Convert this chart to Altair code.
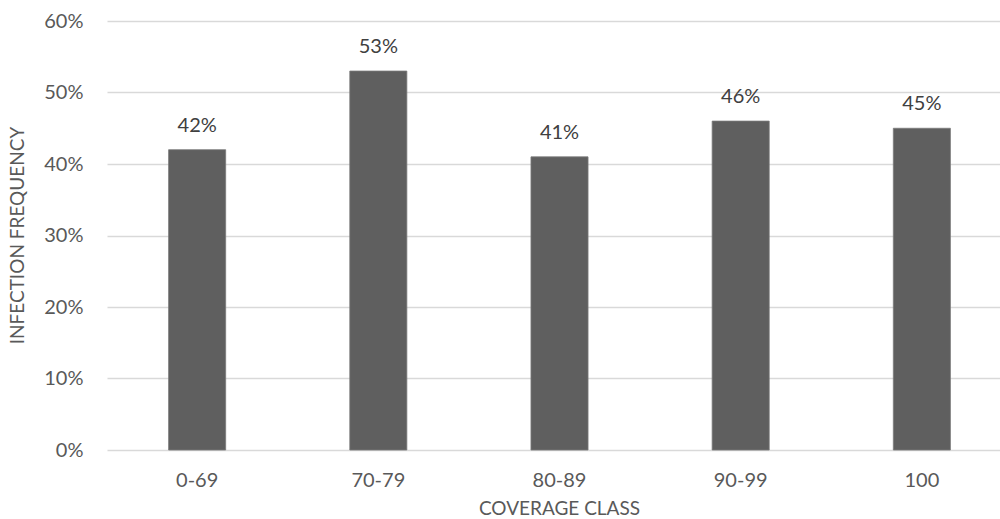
import altair as alt
import pandas as pd

# Infection frequency by coverage class
classes = ["0-69", "70-79", "80-89", "90-99", "100"]
frequency = [0.42, 0.53, 0.41, 0.46, 0.45]
labels = ["42%", "53%", "41%", "46%", "45%"]

df = pd.DataFrame({"cls": classes, "freq": frequency, "label": labels})

FONT = "Lato"
GREY = "#595959"

x_enc = alt.X(
    "cls:N",
    sort=classes,
    scale=alt.Scale(range=[0, 905], paddingInner=0.685, paddingOuter=0.34),
    axis=alt.Axis(
        title="COVERAGE CLASS",
        labelAngle=0,
        labelFont=FONT,
        labelFontSize=20,
        labelColor=GREY,
        labelPadding=20,
        ticks=False,
        domain=False,
        titleFont=FONT,
        titleFontSize=19,
        titleFontWeight="normal",
        titleColor=GREY,
        titleX=452,
        titleY=58,
        titleAlign="center",
        titleBaseline="middle",
    ),
)

bars = alt.Chart(df).mark_bar(color="#5f5f5f", stroke="#7a7a7a", strokeWidth=0.8).encode(
    x=x_enc,
    y=alt.Y(
        "freq:Q",
        scale=alt.Scale(domain=[0, 0.6], nice=False),
        axis=alt.Axis(
            title="INFECTION FREQUENCY",
            format=".0%",
            values=[0, 0.1, 0.2, 0.3, 0.4, 0.5, 0.6],
            labelFont=FONT,
            labelFontSize=20,
            labelColor=GREY,
            labelPadding=24,
            ticks=False,
            domain=False,
            gridColor="#d9d9d9",
            gridWidth=1.5,
            titleFont=FONT,
            titleFontSize=19,
            titleFontWeight="normal",
            titleColor=GREY,
            titleX=-90,
            titleY=214,
            titleAngle=-90,
            titleAlign="center",
            titleBaseline="middle",
        ),
    ),
)

text = alt.Chart(df).mark_text(
    font=FONT, fontSize=20, color="#404040", baseline="bottom", dy=-14
).encode(
    x=alt.X("cls:N", sort=classes),
    y="freq:Q",
    text="label:N",
)

chart = (
    alt.layer(bars, text)
    .properties(
        width=893,
        height=429,
        autosize=alt.AutoSizeParams(type="none"),
        padding={"left": 107, "top": 21, "right": 0, "bottom": 69},
    )
    .configure_view(stroke=None)
)

chart.save("out.html", embed_options={"renderer": "svg", "actions": False})
